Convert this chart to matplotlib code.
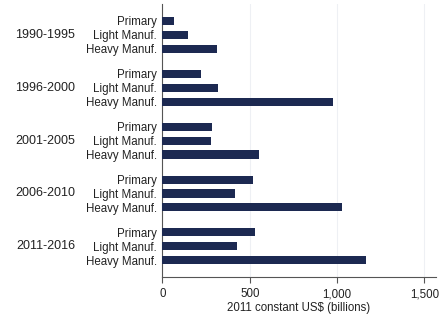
import numpy as np
import matplotlib.pyplot as plt

periods = ["1990-1995", "1996-2000", "2001-2005", "2006-2010", "2011-2016"]
sectors = ["Primary", "Light Manuf.", "Heavy Manuf."]
primary = [67, 219, 285, 518, 528]
light = [148, 316, 276, 415, 425]
heavy = [310, 978, 554, 1026, 1163]
xticks = [0, 500, 1000, 1500]
xticklabels = ["0", "500", "1,000", "1,500"]

plt.rcParams['font.family'] = ['Liberation Sans', 'DejaVu Sans']

fig = plt.figure(figsize=(4.47, 3.16), dpi=100)
ax = fig.add_axes([0.3635, 0.1234, 0.611, 0.8636])

gap = 3.8
pos = []
vals = []
labs = []
for g in range(len(periods)):
  for k, series in enumerate([primary, light, heavy]):
    pos.append(g*gap + k)
    vals.append(series[g])
    labs.append(sectors[k])

ax.barh(pos, vals, height=0.58, color="#1c2951", zorder=3)
ax.set_ylim(pos[-1] + 1.2, -1.2)
ax.set_xlim(0, 1564)
ax.set_yticks(pos)
ax.set_yticklabels(labs, fontsize=8.3, color="#222222")
ax.tick_params(axis="y", length=0, pad=4)
ax.set_xticks(xticks)
ax.set_xticklabels(xticklabels, fontsize=8.3, color="#222222")
ax.tick_params(axis="x", length=4, color="#555555", pad=4)
ax.set_xlabel("2011 constant US$ (billions)", fontsize=8.3, color="#222222", labelpad=1)
ax.grid(axis="x", color="#eef0f4", linewidth=0.8, zorder=0)

for g, p in enumerate(periods):
  ax.text(-0.32, g*gap + 1, p, transform=ax.get_yaxis_transform(),
          ha="right", va="center", fontsize=9, color="#222222")

ax.spines["top"].set_visible(False)
ax.spines["right"].set_visible(False)
ax.spines["left"].set_color("#555555")
ax.spines["bottom"].set_color("#555555")

plt.savefig("out.png", dpi=100)
